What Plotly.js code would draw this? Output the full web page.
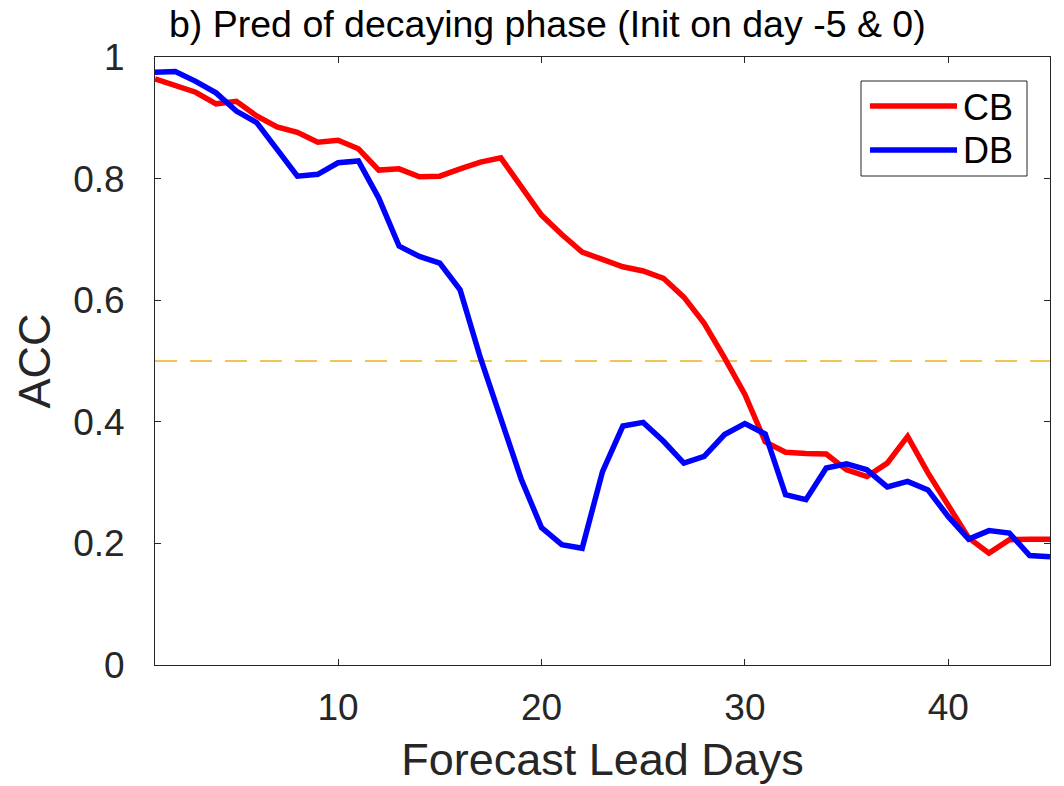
<!DOCTYPE html>
<html>
<head>
<meta charset="utf-8">
<script src="https://cdn.plot.ly/plotly-3.0.1.min.js"></script>
<style>html,body{margin:0;padding:0;background:#fff;}#chart{width:1064px;height:786px;}</style>
</head>
<body>
<div id="chart"></div>
<script>
// Forecast lead days
var leadDays = [1,2,3,4,5,6,7,8,9,10,11,12,13,14,15,16,17,18,19,20,21,22,23,24,25,26,27,28,29,30,31,32,33,34,35,36,37,38,39,40,41,42,43,44,45];
// ACC of CB
var accCB = [0.964,0.952,0.942,0.923,0.927,0.903,0.885,0.876,0.860,0.863,0.849,0.814,0.816,0.803,0.804,0.816,0.827,0.834,0.785,0.740,0.708,0.679,0.667,0.655,0.648,0.636,0.605,0.562,0.505,0.445,0.367,0.350,0.348,0.347,0.321,0.310,0.332,0.376,0.316,0.261,0.209,0.184,0.206,0.207,0.207];
// ACC of DB
var accDB = [0.975,0.976,0.960,0.941,0.911,0.892,0.848,0.804,0.807,0.826,0.829,0.768,0.689,0.672,0.661,0.617,0.505,0.406,0.306,0.226,0.198,0.192,0.318,0.393,0.399,0.368,0.332,0.343,0.379,0.397,0.380,0.280,0.272,0.324,0.331,0.321,0.293,0.302,0.288,0.244,0.207,0.221,0.217,0.180,0.178];
// threshold line
var threshX = [1, 45];
var threshY = [0.5, 0.5];
var seriesNames = ["CB", "DB"];
var xTicks = [10, 20, 30, 40];
var yTicks = [0, 0.2, 0.4, 0.6, 0.8, 1];

var FONT = "Liberation Sans, Arial, Helvetica, sans-serif";
var TXT = "#262626";

var traces = [
  {x: threshX, y: threshY, mode: "lines", line: {color: "#EDB120", width: 1.5, dash: "22px,13px"}, showlegend: false, hoverinfo: "skip"},
  {x: leadDays, y: accCB, name: seriesNames[0], mode: "lines", line: {color: "#FF0000", width: 5.5}, showlegend: false},
  {x: leadDays, y: accDB, name: seriesNames[1], mode: "lines", line: {color: "#0000FF", width: 5.5}, showlegend: false}
];

// plot area in pixels
var L = 155, R = 1050, T = 57, B = 665;
function px2x(p){ return (p - L) / (R - L); }
function px2y(p){ return (B - p) / (B - T); }

var legendShapes = [
  {type: "rect", xref: "paper", yref: "paper", x0: px2x(861), x1: px2x(1027), y0: px2y(176), y1: px2y(81), line: {color: TXT, width: 1}, fillcolor: "#fff", layer: "above"},
  {type: "line", xref: "paper", yref: "paper", x0: px2x(870), x1: px2x(957), y0: px2y(106), y1: px2y(106), line: {color: "#FF0000", width: 5.5}, layer: "above"},
  {type: "line", xref: "paper", yref: "paper", x0: px2x(870), x1: px2x(957), y0: px2y(150), y1: px2y(150), line: {color: "#0000FF", width: 5.5}, layer: "above"}
];
var legendAnn = [
  {xref: "paper", yref: "paper", x: px2x(961), y: px2y(107), text: seriesNames[0], showarrow: false, xanchor: "left", yanchor: "middle", font: {family: FONT, size: 36, color: "#000"}},
  {xref: "paper", yref: "paper", x: px2x(961), y: px2y(151), text: seriesNames[1], showarrow: false, xanchor: "left", yanchor: "middle", font: {family: FONT, size: 36, color: "#000"}}
];

var layout = {
  width: 1064, height: 786,
  margin: {l: L, r: 1064 - R, t: T, b: 786 - B, pad: 0},
  paper_bgcolor: "#fff", plot_bgcolor: "#fff",
  hovermode: false,
  title: {text: "b) Pred of decaying phase (Init on day -5 &amp; 0)", xref: "container", yref: "container", x: 169/1064, xanchor: "left", y: 1 - 24/786, yanchor: "middle", font: {family: FONT, size: 37.5, color: "#000"}},
  xaxis: {
    range: [1, 45], tickvals: xTicks, ticks: "inside", ticklen: 6, tickcolor: TXT, tickwidth: 1,
    showline: true, linecolor: TXT, linewidth: 1, mirror: "ticks", showgrid: false, zeroline: false,
    tickfont: {family: FONT, size: 37, color: TXT}, ticklabelstandoff: 10,
    title: {text: "Forecast Lead Days", font: {family: FONT, size: 45, color: TXT}, standoff: 16}
  },
  yaxis: {
    range: [0, 1], tickvals: yTicks, ticks: "inside", ticklen: 6, tickcolor: TXT, tickwidth: 1,
    showline: true, linecolor: TXT, linewidth: 1, mirror: "ticks", showgrid: false, zeroline: false,
    tickfont: {family: FONT, size: 37, color: TXT}, ticklabelstandoff: 22,
    title: {text: "ACC", font: {family: FONT, size: 45, color: TXT}, standoff: 8}
  },
  shapes: legendShapes,
  annotations: legendAnn,
  showlegend: false
};

Plotly.newPlot("chart", traces, layout, {staticPlot: true, displayModeBar: false});
</script>
</body>
</html>
